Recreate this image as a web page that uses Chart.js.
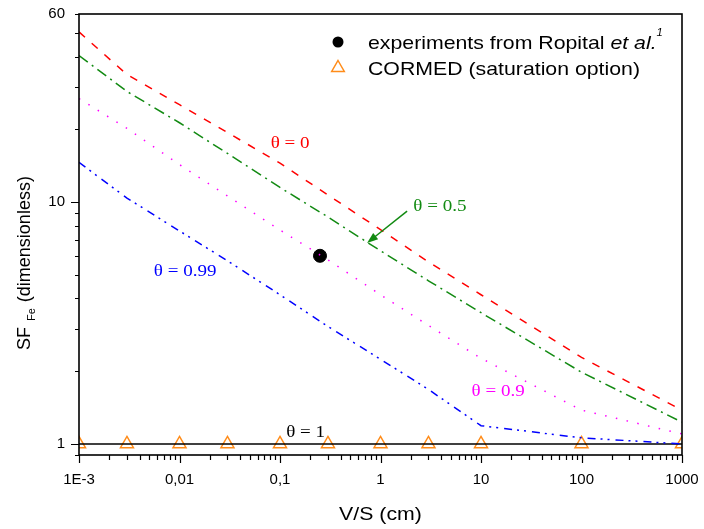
<!DOCTYPE html>
<html>
<head>
<meta charset="utf-8">
<script src="https://cdn.jsdelivr.net/npm/chart.js@4.4.1/dist/chart.umd.min.js"></script>
<style>
  html, body { margin: 0; padding: 0; background: #fff; }
  #wrap { width: 704px; height: 529px; }
</style>
</head>
<body>
<div id="wrap"><canvas id="myChart" width="704" height="529"></canvas></div>
<script>
// V/S (cm) where the model curves were evaluated
const vsValues = [0.001, 0.003, 0.01, 0.03, 0.1, 0.3, 1, 3, 10, 100, 1000];

// SF_Fe for each coverage theta
const sfTheta0 = [50.6, 33.7, 25.3, 19.4, 14.5, 10.7, 7.7, 5.66, 4.14, 2.28, 1.38];
const sfTheta05 = [40.4, 28.7, 21.3, 15.9, 11.5, 8.68, 6.29, 4.73, 3.49, 1.98, 1.23];
const sfTheta09 = [26.8, 20.2, 14.3, 10.6, 7.67, 5.77, 4.14, 3.09, 2.26, 1.38, 1.1];
const sfTheta099 = [14.6, 10.4, 7.6, 5.72, 4.14, 3.06, 2.24, 1.68, 1.19, 1.06, 1.0];
const sfTheta1 = [1, 1, 1, 1, 1, 1, 1, 1, 1, 1, 1];

// CORMED (saturation option)
const cormedVs = [0.001, 0.003, 0.01, 0.03, 0.1, 0.3, 1, 3, 10, 100, 1000];
const cormedSf = [1, 1, 1, 1, 1, 1, 1, 1, 1, 1, 1];

// experiments from Ropital et al.
const expVs = [0.25];
const expSf = [6.0];

const xTickValues = [0.001, 0.01, 0.1, 1, 10, 100, 1000];
const xTickLabels = ["1E-3", "0,01", "0,1", "1", "10", "100", "1000"];
const yTickValues = [1, 10, 60];
const yTickLabels = ["1", "10", "60"];

// curve labels, anchored in data coordinates
const thetaLabels = [
  { text: "\u03B8 = 0", color: "#ff0000", x: 0.126, y: 17.5 },
  { text: "\u03B8 = 0.5", color: "#128a12", x: 3.9, y: 9.63 },
  { text: "\u03B8 = 0.9", color: "#ff00ff", x: 14.8, y: 1.64 },
  { text: "\u03B8 = 0.99", color: "#0000ff", x: 0.0114, y: 5.15 },
  { text: "\u03B8 = 1", color: "#000000", x: 0.18, y: 1.12 },
];
const arrowFrom = { x: 1.84, y: 9.18 };
const arrowTo = { x: 0.735, y: 6.78 };

const STRETCH = 1.12; // source figure text is a bit wider than tall

function curve(label, values, color, dash) {
  return {
    label: label,
    data: vsValues.map((v, i) => ({ x: v, y: values[i] })),
    showLine: true,
    borderColor: color,
    borderWidth: 1.5,
    borderDash: dash,
    pointRadius: 0,
    pointHoverRadius: 0,
    tension: 0,
    fill: false,
  };
}

function stretchText(ctx, parts, x, y, align) {
  // parts: [{text, font, dy}]
  let total = 0;
  for (const p of parts) {
    ctx.font = p.font;
    total += ctx.measureText(p.text).width;
  }
  ctx.save();
  ctx.translate(x, y);
  ctx.scale(STRETCH, 1);
  let cx = align === "center" ? -total / 2 : 0;
  ctx.textAlign = "left";
  for (const p of parts) {
    ctx.font = p.font;
    ctx.fillText(p.text, cx, p.dy || 0);
    cx += ctx.measureText(p.text).width;
  }
  ctx.restore();
}

// keep the plot box where it is in the figure, labels may overhang
function noPadding(s) {
  s.paddingLeft = 0;
  s.paddingRight = 0;
  s.paddingTop = 0;
  s.paddingBottom = 0;
}

const extras = {
  id: "extras",
  afterDraw(chart) {
    const ctx = chart.ctx;
    const area = chart.chartArea;
    const xs = chart.scales.x;
    const ys = chart.scales.y;

    ctx.save();
    // frame
    ctx.strokeStyle = "#000";
    ctx.lineWidth = 1.6;
    ctx.strokeRect(area.left, area.top, area.right - area.left, area.bottom - area.top);

    // tick marks, outward
    ctx.lineWidth = 1.2;
    ctx.beginPath();
    for (let d = 0.001; d < 1000; d *= 10) {
      for (let k = 1; k <= 9; k++) {
        const px = Math.round(xs.getPixelForValue(d * k)) + 0.5;
        const len = k === 1 ? 8 : 5;
        ctx.moveTo(px, area.bottom);
        ctx.lineTo(px, area.bottom + len);
      }
    }
    const px1000 = Math.round(xs.getPixelForValue(1000)) + 0.5;
    ctx.moveTo(px1000, area.bottom);
    ctx.lineTo(px1000, area.bottom + 8);
    const yMinor = [0.9, 2, 3, 4, 5, 6, 7, 8, 9, 20, 30, 40, 50, 60];
    for (const v of yMinor) {
      const py = Math.round(ys.getPixelForValue(v)) + 0.5;
      ctx.moveTo(area.left, py);
      ctx.lineTo(area.left - 4, py);
    }
    for (const v of [1, 10]) {
      const py = Math.round(ys.getPixelForValue(v)) + 0.5;
      ctx.moveTo(area.left, py);
      ctx.lineTo(area.left - 8, py);
    }
    ctx.stroke();

    // theta labels
    ctx.textBaseline = "middle";
    for (const t of thetaLabels) {
      ctx.fillStyle = t.color;
      stretchText(ctx, [{ text: t.text, font: '17px "Liberation Serif"' }],
        xs.getPixelForValue(t.x), ys.getPixelForValue(t.y), "center");
    }

    // arrow pointing at the theta = 0.5 curve
    const ax0 = xs.getPixelForValue(arrowFrom.x), ay0 = ys.getPixelForValue(arrowFrom.y);
    const ax1 = xs.getPixelForValue(arrowTo.x), ay1 = ys.getPixelForValue(arrowTo.y);
    const ang = Math.atan2(ay1 - ay0, ax1 - ax0);
    ctx.strokeStyle = "#128a12";
    ctx.fillStyle = "#128a12";
    ctx.lineWidth = 1.5;
    ctx.beginPath();
    ctx.moveTo(ax0, ay0);
    ctx.lineTo(ax1 - 8 * Math.cos(ang), ay1 - 8 * Math.sin(ang));
    ctx.stroke();
    ctx.beginPath();
    ctx.moveTo(ax1, ay1);
    ctx.lineTo(ax1 - 11 * Math.cos(ang) + 4 * Math.sin(ang), ay1 - 11 * Math.sin(ang) - 4 * Math.cos(ang));
    ctx.lineTo(ax1 - 11 * Math.cos(ang) - 4 * Math.sin(ang), ay1 - 11 * Math.sin(ang) + 4 * Math.cos(ang));
    ctx.closePath();
    ctx.fill();

    // legend
    const lx = area.left + 259;
    ctx.fillStyle = "#000";
    ctx.beginPath();
    ctx.arc(lx, 42, 5.5, 0, Math.PI * 2);
    ctx.fill();
    ctx.strokeStyle = "#ff8c1a";
    ctx.lineWidth = 1.5;
    ctx.beginPath();
    ctx.moveTo(lx, 60.5);
    ctx.lineTo(lx + 6.3, 71.5);
    ctx.lineTo(lx - 6.3, 71.5);
    ctx.closePath();
    ctx.stroke();
    ctx.fillStyle = "#000";
    ctx.textBaseline = "alphabetic";
    stretchText(ctx, [
      { text: "experiments from Ropital ", font: '19px "Liberation Sans"' },
      { text: "et al.", font: 'italic 19px "Liberation Sans"' },
      { text: "1", font: 'italic 10px "Liberation Sans"', dy: -13 },
    ], lx + 30, 49, "left");
    stretchText(ctx, [
      { text: "CORMED (saturation option)", font: '19px "Liberation Sans"' },
    ], lx + 30, 75, "left");

    // axis titles
    stretchText(ctx, [{ text: "V/S (cm)", font: '19px "Liberation Sans"' }],
      (area.left + area.right) / 2, 520, "center");

    ctx.save();
    ctx.translate(30, 350);
    ctx.rotate(-Math.PI / 2);
    ctx.textAlign = "left";
    ctx.textBaseline = "alphabetic";
    ctx.font = '18px "Liberation Sans"';
    ctx.fillText("SF", 0, 0);
    let off = ctx.measureText("SF").width + 6;
    ctx.font = '11px "Liberation Sans"';
    ctx.fillText("Fe", off, 5);
    off += ctx.measureText("Fe").width + 6;
    ctx.font = '18px "Liberation Sans"';
    ctx.fillText("(dimensionless)", off, 0);
    ctx.restore();

    ctx.restore();
  },
};

const tickFont = { family: "Liberation Sans", size: 15 };

const chart = new Chart(document.getElementById("myChart").getContext("2d"), {
  type: "scatter",
  data: {
    datasets: [
      curve("theta = 0", sfTheta0, "#ff0000", [8, 9]),
      curve("theta = 0.5", sfTheta05, "#128a12", [11, 5, 2, 5]),
      curve("theta = 0.9", sfTheta09, "#ff00ff", [1.5, 9.5]),
      curve("theta = 0.99", sfTheta099, "#0000ff", [8, 5, 2, 5, 2, 6]),
      curve("theta = 1", sfTheta1, "#000000", []),
      {
        label: "CORMED (saturation option)",
        data: cormedVs.map((v, i) => ({ x: v, y: cormedSf[i] })),
        pointStyle: "triangle",
        pointRadius: 7.5,
        pointBorderWidth: 1.5,
        pointBorderColor: "#ff8c1a",
        pointBackgroundColor: "#ffffff",
        showLine: false,
      },
      {
        label: "experiments from Ropital et al.",
        data: expVs.map((v, i) => ({ x: v, y: expSf[i] })),
        pointRadius: 6.5,
        pointBackgroundColor: "#000",
        pointBorderColor: "#000",
        showLine: false,
      },
    ],
  },
  options: {
    responsive: false,
    animation: false,
    events: [],
    layout: { padding: { top: 14, right: 22, left: 0, bottom: 0 } },
    plugins: { legend: { display: false }, tooltip: { enabled: false } },
    scales: {
      x: {
        type: "logarithmic",
        min: 0.001,
        max: 1000,
        afterBuildTicks: (s) => { s.ticks = xTickValues.map((v) => ({ value: v })); },
        afterFit: (s) => { s.height = 74; noPadding(s); },
        grid: { display: false, drawTicks: false },
        border: { display: false },
        ticks: {
          callback: (v, i) => xTickLabels[i],
          font: tickFont,
          color: "#000",
          padding: 16,
          maxRotation: 0,
          autoSkip: false,
        },
      },
      y: {
        type: "logarithmic",
        min: 0.9,
        max: 60,
        afterBuildTicks: (s) => { s.ticks = yTickValues.map((v) => ({ value: v })); },
        afterFit: (s) => { s.width = 79; noPadding(s); },
        grid: { display: false, drawTicks: false },
        border: { display: false },
        ticks: {
          callback: (v, i) => yTickLabels[i],
          font: tickFont,
          color: "#000",
          padding: 14,
          autoSkip: false,
        },
      },
    },
  },
  plugins: [extras],
});
</script>
</body>
</html>
